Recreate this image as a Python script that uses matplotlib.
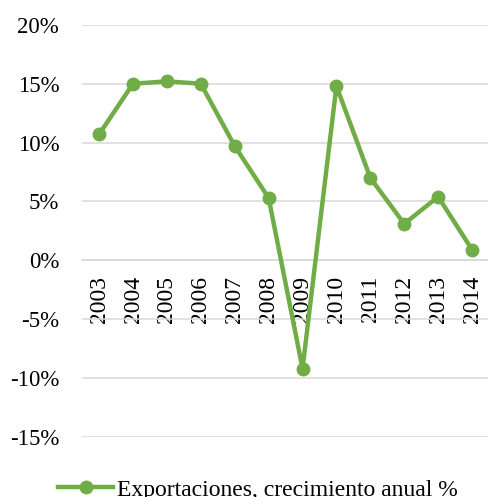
import matplotlib

matplotlib.use("Agg")
import matplotlib.pyplot as plt
from matplotlib.ticker import FuncFormatter

plt.rcParams["font.family"] = ["Liberation Serif", "DejaVu Serif"]

years = ["2003", "2004", "2005", "2006", "2007", "2008",
         "2009", "2010", "2011", "2012", "2013", "2014"]
growth = [10.7, 15.0, 15.2, 15.0, 9.7, 5.3, -9.2, 14.8, 7.0, 3.1, 5.4, 0.9]
series_label = "Exportaciones, crecimiento anual %"

GREEN = "#70AD47"
GRID = "#D9D9D9"

fig = plt.figure(figsize=(4.89, 4.97), dpi=100)
ax = fig.add_axes([0.168, 0.121, 0.832, 0.829])

x = list(range(len(years)))
ax.plot(x, growth, "-o", color=GREEN, lw=3.2, markersize=9, label=series_label,
        zorder=3, solid_joinstyle="round")

ax.set_xlim(-0.5, len(years) - 0.5)
ax.set_ylim(-15, 20)
ax.set_yticks(range(-15, 21, 5))
ax.yaxis.set_major_formatter(FuncFormatter(lambda v, _: f"{v:.0f}%"))
ax.grid(axis="y", color=GRID, lw=1.1)
ax.set_axisbelow(True)

for side in ["top", "right", "left"]:
    ax.spines[side].set_visible(False)
ax.spines["bottom"].set_position(("data", 0))
ax.spines["bottom"].set_color(GRID)
ax.spines["bottom"].set_linewidth(1.1)

ax.set_xticks(x)
ax.set_xticklabels(years, rotation=90)
ax.tick_params(axis="x", length=0, pad=11, labelsize=17)
ax.tick_params(axis="y", length=0, pad=16.5, labelsize=16.5)

fig.legend(loc="lower center", bbox_to_anchor=(0.527, -0.05), frameon=False,
           fontsize=17, handlelength=2.35, handletextpad=0.15)

fig.savefig("out.png", dpi=100)
